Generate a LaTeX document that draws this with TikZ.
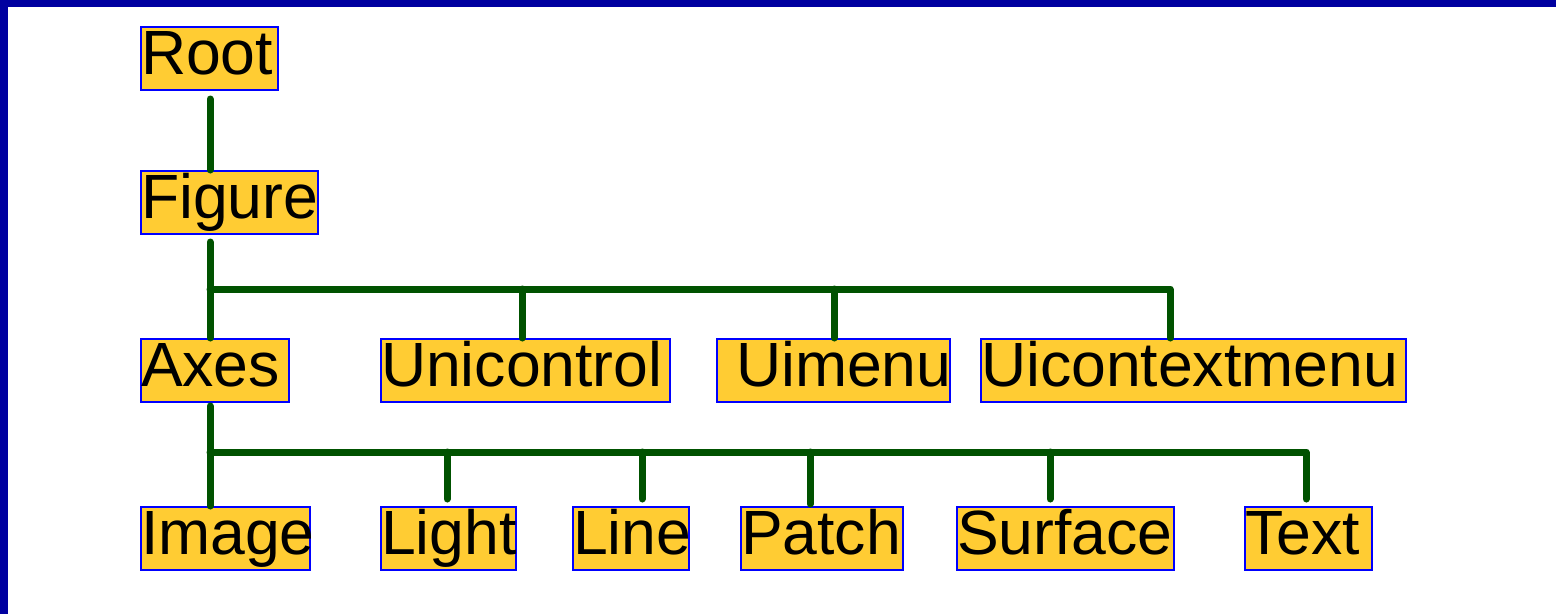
\documentclass[tikz,border=0pt]{standalone}
\usepackage{fontspec}
\setmainfont{Liberation Sans}
\usetikzlibrary{calc}
\definecolor{frameblue}{RGB}{0,0,160}
\definecolor{boxfill}{RGB}{255,204,51}
\definecolor{linkgreen}{RGB}{0,82,0}
\begin{document}
\begin{tikzpicture}[x=1pt,y=-1pt,
  hbox/.style={draw=blue, line width=2pt, fill=boxfill, anchor=north west,
    inner xsep=0pt, inner ysep=0pt, text height=47pt, text depth=16pt,
    align=left, font=\fontsize{62.5}{63}\selectfont},
  link/.style={draw=linkgreen, line width=7pt, line cap=round, line join=round}]
\useasboundingbox (0,0) rectangle (1556,614);
\fill[white] (0,0) rectangle (1556,614);
\fill[frameblue] (0,0) rectangle (1556,7);
\fill[frameblue] (0,0) rectangle (8,614);
% nodes
\node[hbox, text width=137pt] (root) at (140,26) {Root};
\node[hbox, text width=177pt] (figure) at (140,170) {Figure};
\node[hbox, text width=148pt] (axes) at (140,338) {Axes};
\node[hbox, text width=289pt] (unicontrol) at (380,338) {Unicontrol};
\node[hbox, text width=233pt] (uimenu) at (716,338) {\hspace*{19pt}Uimenu};
\node[hbox, text width=425pt] (uicontext) at (980,338) {Uicontextmenu};
\node[hbox, text width=169pt] (image) at (140,506) {Image};
\node[hbox, text width=135pt] (light) at (380,506) {Light};
\node[hbox, text width=116pt] (line) at (572,506) {Line};
\node[hbox, text width=162pt] (patch) at (740,506) {Patch};
\node[hbox, text width=217pt] (surface) at (956,506) {Surface};
\node[hbox, text width=127pt] (text) at (1244,506) {Text};
% coordinates on the buses
\coordinate (rootout) at ($(root.south west)+(70,8)$);
\coordinate (figin) at ($(figure.north west)+(70,0)$);
\coordinate (figout) at ($(figure.south west)+(70,7)$);
\coordinate (bus1) at ($(figout)+(0,47)$);
\coordinate (axin) at ($(axes.north west)+(70,0)$);
\coordinate (uciin) at ($(unicontrol.north west)+(142,0)$);
\coordinate (uimin) at ($(uimenu.north west)+(118,0)$);
\coordinate (uctin) at ($(uicontext.north west)+(190,0)$);
\coordinate (axout) at ($(axes.south west)+(70,3)$);
\coordinate (bus2) at ($(axout)+(0,46)$);
\coordinate (imin) at ($(image.north west)+(70,0)$);
\coordinate (ltin) at ($(light.north west)+(67,-7)$);
\coordinate (lnin) at ($(line.north west)+(70,-7)$);
\coordinate (ptin) at ($(patch.north west)+(70,-2)$);
\coordinate (sfin) at ($(surface.north west)+(94,-7)$);
\coordinate (txin) at ($(text.north west)+(62,-7)$);
% connectors
\draw[link] (rootout) -- (figin);
\draw[link] (figout) -- (axin);
\draw[link] (bus1) -| (uctin);
\draw[link] (uciin |- bus1) -- (uciin);
\draw[link] (uimin |- bus1) -- (uimin);
\draw[link] (axout) -- (imin);
\draw[link] (bus2) -| (txin);
\draw[link] (ltin |- bus2) -- (ltin);
\draw[link] (lnin |- bus2) -- (lnin);
\draw[link] (ptin |- bus2) -- (ptin);
\draw[link] (sfin |- bus2) -- (sfin);
\end{tikzpicture}
\end{document}
